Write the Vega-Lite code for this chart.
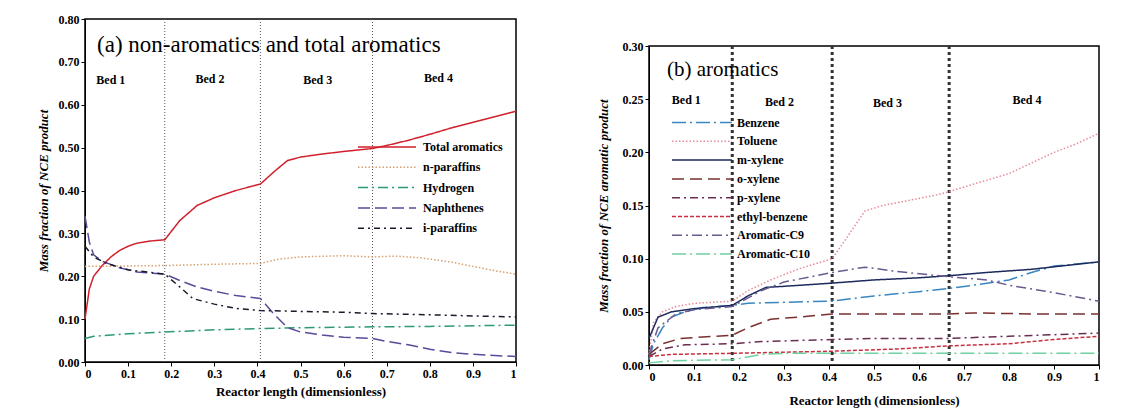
{
  "$schema": "https://vega.github.io/schema/vega-lite/v6.json",
  "background": "white",
  "padding": {"left": 36, "top": 12, "right": 0, "bottom": 0},
  "config": {
    "font": "Liberation Serif",
    "view": {"stroke": "black", "strokeWidth": 1.5},
    "axis": {
      "grid": false,
      "domainColor": "black",
      "tickColor": "black",
      "labelColor": "black",
      "titleColor": "black",
      "labelFont": "Liberation Serif",
      "titleFont": "Liberation Serif",
      "labelFontSize": 12,
      "labelFontWeight": "bold",
      "titleFontSize": 13,
      "titleFontWeight": "bold",
      "tickSize": 4
    },
    "legend": {
      "labelFont": "Liberation Serif",
      "labelFontSize": 12,
      "labelFontWeight": "bold",
      "labelColor": "black"
    },
    "concat": {"spacing": 76}
  },
  "datasets": {
    "a": [
      {"x": 0, "y": 0.10, "s": "Total aromatics"},
      {"x": 0.01, "y": 0.17, "s": "Total aromatics"},
      {"x": 0.02, "y": 0.20, "s": "Total aromatics"},
      {"x": 0.04, "y": 0.225, "s": "Total aromatics"},
      {"x": 0.06, "y": 0.245, "s": "Total aromatics"},
      {"x": 0.08, "y": 0.26, "s": "Total aromatics"},
      {"x": 0.10, "y": 0.27, "s": "Total aromatics"},
      {"x": 0.12, "y": 0.277, "s": "Total aromatics"},
      {"x": 0.15, "y": 0.282, "s": "Total aromatics"},
      {"x": 0.185, "y": 0.285, "s": "Total aromatics"},
      {"x": 0.22, "y": 0.33, "s": "Total aromatics"},
      {"x": 0.26, "y": 0.365, "s": "Total aromatics"},
      {"x": 0.30, "y": 0.383, "s": "Total aromatics"},
      {"x": 0.35, "y": 0.40, "s": "Total aromatics"},
      {"x": 0.407, "y": 0.415, "s": "Total aromatics"},
      {"x": 0.44, "y": 0.445, "s": "Total aromatics"},
      {"x": 0.47, "y": 0.47, "s": "Total aromatics"},
      {"x": 0.50, "y": 0.478, "s": "Total aromatics"},
      {"x": 0.55, "y": 0.485, "s": "Total aromatics"},
      {"x": 0.60, "y": 0.491, "s": "Total aromatics"},
      {"x": 0.667, "y": 0.498, "s": "Total aromatics"},
      {"x": 0.70, "y": 0.505, "s": "Total aromatics"},
      {"x": 0.75, "y": 0.517, "s": "Total aromatics"},
      {"x": 0.80, "y": 0.531, "s": "Total aromatics"},
      {"x": 0.85, "y": 0.546, "s": "Total aromatics"},
      {"x": 0.90, "y": 0.559, "s": "Total aromatics"},
      {"x": 0.95, "y": 0.572, "s": "Total aromatics"},
      {"x": 1.0, "y": 0.585, "s": "Total aromatics"},

      {"x": 0, "y": 0.223, "s": "n-paraffins"},
      {"x": 0.1, "y": 0.224, "s": "n-paraffins"},
      {"x": 0.185, "y": 0.225, "s": "n-paraffins"},
      {"x": 0.3, "y": 0.228, "s": "n-paraffins"},
      {"x": 0.407, "y": 0.23, "s": "n-paraffins"},
      {"x": 0.45, "y": 0.24, "s": "n-paraffins"},
      {"x": 0.5, "y": 0.245, "s": "n-paraffins"},
      {"x": 0.6, "y": 0.248, "s": "n-paraffins"},
      {"x": 0.667, "y": 0.245, "s": "n-paraffins"},
      {"x": 0.72, "y": 0.247, "s": "n-paraffins"},
      {"x": 0.78, "y": 0.243, "s": "n-paraffins"},
      {"x": 0.85, "y": 0.233, "s": "n-paraffins"},
      {"x": 0.9, "y": 0.223, "s": "n-paraffins"},
      {"x": 0.95, "y": 0.213, "s": "n-paraffins"},
      {"x": 1.0, "y": 0.205, "s": "n-paraffins"},

      {"x": 0, "y": 0.055, "s": "Hydrogen"},
      {"x": 0.02, "y": 0.06, "s": "Hydrogen"},
      {"x": 0.1, "y": 0.066, "s": "Hydrogen"},
      {"x": 0.185, "y": 0.07, "s": "Hydrogen"},
      {"x": 0.3, "y": 0.075, "s": "Hydrogen"},
      {"x": 0.407, "y": 0.078, "s": "Hydrogen"},
      {"x": 0.5, "y": 0.08, "s": "Hydrogen"},
      {"x": 0.667, "y": 0.082, "s": "Hydrogen"},
      {"x": 0.8, "y": 0.083, "s": "Hydrogen"},
      {"x": 1.0, "y": 0.086, "s": "Hydrogen"},

      {"x": 0, "y": 0.34, "s": "Naphthenes"},
      {"x": 0.01, "y": 0.28, "s": "Naphthenes"},
      {"x": 0.02, "y": 0.25, "s": "Naphthenes"},
      {"x": 0.04, "y": 0.235, "s": "Naphthenes"},
      {"x": 0.08, "y": 0.22, "s": "Naphthenes"},
      {"x": 0.12, "y": 0.21, "s": "Naphthenes"},
      {"x": 0.185, "y": 0.205, "s": "Naphthenes"},
      {"x": 0.22, "y": 0.19, "s": "Naphthenes"},
      {"x": 0.26, "y": 0.175, "s": "Naphthenes"},
      {"x": 0.30, "y": 0.165, "s": "Naphthenes"},
      {"x": 0.35, "y": 0.155, "s": "Naphthenes"},
      {"x": 0.407, "y": 0.148, "s": "Naphthenes"},
      {"x": 0.44, "y": 0.11, "s": "Naphthenes"},
      {"x": 0.47, "y": 0.08, "s": "Naphthenes"},
      {"x": 0.50, "y": 0.07, "s": "Naphthenes"},
      {"x": 0.55, "y": 0.063, "s": "Naphthenes"},
      {"x": 0.60, "y": 0.058, "s": "Naphthenes"},
      {"x": 0.667, "y": 0.055, "s": "Naphthenes"},
      {"x": 0.70, "y": 0.048, "s": "Naphthenes"},
      {"x": 0.75, "y": 0.04, "s": "Naphthenes"},
      {"x": 0.80, "y": 0.03, "s": "Naphthenes"},
      {"x": 0.85, "y": 0.022, "s": "Naphthenes"},
      {"x": 0.90, "y": 0.018, "s": "Naphthenes"},
      {"x": 0.95, "y": 0.015, "s": "Naphthenes"},
      {"x": 1.0, "y": 0.013, "s": "Naphthenes"},

      {"x": 0, "y": 0.27, "s": "i-paraffins"},
      {"x": 0.02, "y": 0.245, "s": "i-paraffins"},
      {"x": 0.05, "y": 0.23, "s": "i-paraffins"},
      {"x": 0.10, "y": 0.215, "s": "i-paraffins"},
      {"x": 0.185, "y": 0.205, "s": "i-paraffins"},
      {"x": 0.22, "y": 0.175, "s": "i-paraffins"},
      {"x": 0.25, "y": 0.148, "s": "i-paraffins"},
      {"x": 0.30, "y": 0.135, "s": "i-paraffins"},
      {"x": 0.35, "y": 0.125, "s": "i-paraffins"},
      {"x": 0.407, "y": 0.12, "s": "i-paraffins"},
      {"x": 0.50, "y": 0.118, "s": "i-paraffins"},
      {"x": 0.60, "y": 0.116, "s": "i-paraffins"},
      {"x": 0.667, "y": 0.113, "s": "i-paraffins"},
      {"x": 0.80, "y": 0.11, "s": "i-paraffins"},
      {"x": 1.0, "y": 0.105, "s": "i-paraffins"}
    ],
    "b": [
      {"x": 0, "y": 0.005, "s": "Benzene"},
      {"x": 0.01, "y": 0.02, "s": "Benzene"},
      {"x": 0.03, "y": 0.035, "s": "Benzene"},
      {"x": 0.05, "y": 0.045, "s": "Benzene"},
      {"x": 0.08, "y": 0.05, "s": "Benzene"},
      {"x": 0.12, "y": 0.054, "s": "Benzene"},
      {"x": 0.185, "y": 0.056, "s": "Benzene"},
      {"x": 0.22, "y": 0.058, "s": "Benzene"},
      {"x": 0.30, "y": 0.059, "s": "Benzene"},
      {"x": 0.407, "y": 0.06, "s": "Benzene"},
      {"x": 0.50, "y": 0.065, "s": "Benzene"},
      {"x": 0.60, "y": 0.069, "s": "Benzene"},
      {"x": 0.667, "y": 0.072, "s": "Benzene"},
      {"x": 0.72, "y": 0.075, "s": "Benzene"},
      {"x": 0.80, "y": 0.08, "s": "Benzene"},
      {"x": 0.85, "y": 0.087, "s": "Benzene"},
      {"x": 0.90, "y": 0.093, "s": "Benzene"},
      {"x": 1.0, "y": 0.097, "s": "Benzene"},

      {"x": 0, "y": 0.01, "s": "Toluene"},
      {"x": 0.01, "y": 0.04, "s": "Toluene"},
      {"x": 0.03, "y": 0.05, "s": "Toluene"},
      {"x": 0.06, "y": 0.055, "s": "Toluene"},
      {"x": 0.10, "y": 0.058, "s": "Toluene"},
      {"x": 0.185, "y": 0.06, "s": "Toluene"},
      {"x": 0.22, "y": 0.07, "s": "Toluene"},
      {"x": 0.27, "y": 0.08, "s": "Toluene"},
      {"x": 0.33, "y": 0.09, "s": "Toluene"},
      {"x": 0.407, "y": 0.1, "s": "Toluene"},
      {"x": 0.44, "y": 0.12, "s": "Toluene"},
      {"x": 0.48, "y": 0.145, "s": "Toluene"},
      {"x": 0.52, "y": 0.15, "s": "Toluene"},
      {"x": 0.58, "y": 0.155, "s": "Toluene"},
      {"x": 0.64, "y": 0.16, "s": "Toluene"},
      {"x": 0.667, "y": 0.163, "s": "Toluene"},
      {"x": 0.72, "y": 0.17, "s": "Toluene"},
      {"x": 0.80, "y": 0.18, "s": "Toluene"},
      {"x": 0.85, "y": 0.19, "s": "Toluene"},
      {"x": 0.90, "y": 0.2, "s": "Toluene"},
      {"x": 0.95, "y": 0.208, "s": "Toluene"},
      {"x": 1.0, "y": 0.218, "s": "Toluene"},

      {"x": 0, "y": 0.025, "s": "m-xylene"},
      {"x": 0.02, "y": 0.045, "s": "m-xylene"},
      {"x": 0.05, "y": 0.05, "s": "m-xylene"},
      {"x": 0.10, "y": 0.053, "s": "m-xylene"},
      {"x": 0.185, "y": 0.056, "s": "m-xylene"},
      {"x": 0.22, "y": 0.065, "s": "m-xylene"},
      {"x": 0.26, "y": 0.073, "s": "m-xylene"},
      {"x": 0.30, "y": 0.074, "s": "m-xylene"},
      {"x": 0.407, "y": 0.077, "s": "m-xylene"},
      {"x": 0.50, "y": 0.08, "s": "m-xylene"},
      {"x": 0.60, "y": 0.082, "s": "m-xylene"},
      {"x": 0.667, "y": 0.084, "s": "m-xylene"},
      {"x": 0.75, "y": 0.087, "s": "m-xylene"},
      {"x": 0.85, "y": 0.09, "s": "m-xylene"},
      {"x": 1.0, "y": 0.097, "s": "m-xylene"},

      {"x": 0, "y": 0.01, "s": "o-xylene"},
      {"x": 0.03, "y": 0.02, "s": "o-xylene"},
      {"x": 0.07, "y": 0.025, "s": "o-xylene"},
      {"x": 0.185, "y": 0.028, "s": "o-xylene"},
      {"x": 0.22, "y": 0.035, "s": "o-xylene"},
      {"x": 0.27, "y": 0.043, "s": "o-xylene"},
      {"x": 0.33, "y": 0.045, "s": "o-xylene"},
      {"x": 0.407, "y": 0.048, "s": "o-xylene"},
      {"x": 0.50, "y": 0.048, "s": "o-xylene"},
      {"x": 0.667, "y": 0.048, "s": "o-xylene"},
      {"x": 0.72, "y": 0.049, "s": "o-xylene"},
      {"x": 0.85, "y": 0.048, "s": "o-xylene"},
      {"x": 1.0, "y": 0.048, "s": "o-xylene"},

      {"x": 0, "y": 0.008, "s": "p-xylene"},
      {"x": 0.03, "y": 0.015, "s": "p-xylene"},
      {"x": 0.08, "y": 0.019, "s": "p-xylene"},
      {"x": 0.185, "y": 0.02, "s": "p-xylene"},
      {"x": 0.25, "y": 0.022, "s": "p-xylene"},
      {"x": 0.407, "y": 0.024, "s": "p-xylene"},
      {"x": 0.50, "y": 0.025, "s": "p-xylene"},
      {"x": 0.667, "y": 0.025, "s": "p-xylene"},
      {"x": 0.80, "y": 0.027, "s": "p-xylene"},
      {"x": 1.0, "y": 0.03, "s": "p-xylene"},

      {"x": 0, "y": 0.008, "s": "ethyl-benzene"},
      {"x": 0.05, "y": 0.01, "s": "ethyl-benzene"},
      {"x": 0.185, "y": 0.011, "s": "ethyl-benzene"},
      {"x": 0.30, "y": 0.012, "s": "ethyl-benzene"},
      {"x": 0.407, "y": 0.013, "s": "ethyl-benzene"},
      {"x": 0.55, "y": 0.015, "s": "ethyl-benzene"},
      {"x": 0.667, "y": 0.018, "s": "ethyl-benzene"},
      {"x": 0.80, "y": 0.02, "s": "ethyl-benzene"},
      {"x": 0.90, "y": 0.024, "s": "ethyl-benzene"},
      {"x": 1.0, "y": 0.027, "s": "ethyl-benzene"},

      {"x": 0, "y": 0.01, "s": "Aromatic-C9"},
      {"x": 0.02, "y": 0.035, "s": "Aromatic-C9"},
      {"x": 0.06, "y": 0.048, "s": "Aromatic-C9"},
      {"x": 0.10, "y": 0.052, "s": "Aromatic-C9"},
      {"x": 0.185, "y": 0.055, "s": "Aromatic-C9"},
      {"x": 0.25, "y": 0.07, "s": "Aromatic-C9"},
      {"x": 0.30, "y": 0.078, "s": "Aromatic-C9"},
      {"x": 0.407, "y": 0.087, "s": "Aromatic-C9"},
      {"x": 0.48, "y": 0.092, "s": "Aromatic-C9"},
      {"x": 0.55, "y": 0.088, "s": "Aromatic-C9"},
      {"x": 0.62, "y": 0.085, "s": "Aromatic-C9"},
      {"x": 0.667, "y": 0.083, "s": "Aromatic-C9"},
      {"x": 0.75, "y": 0.08, "s": "Aromatic-C9"},
      {"x": 0.80, "y": 0.075, "s": "Aromatic-C9"},
      {"x": 0.90, "y": 0.068, "s": "Aromatic-C9"},
      {"x": 1.0, "y": 0.06, "s": "Aromatic-C9"},

      {"x": 0, "y": 0.002, "s": "Aromatic-C10"},
      {"x": 0.05, "y": 0.004, "s": "Aromatic-C10"},
      {"x": 0.185, "y": 0.005, "s": "Aromatic-C10"},
      {"x": 0.25, "y": 0.01, "s": "Aromatic-C10"},
      {"x": 0.30, "y": 0.011, "s": "Aromatic-C10"},
      {"x": 0.407, "y": 0.011, "s": "Aromatic-C10"},
      {"x": 0.667, "y": 0.011, "s": "Aromatic-C10"},
      {"x": 1.0, "y": 0.011, "s": "Aromatic-C10"}
    ],
    "beds": [{"x": 0.185}, {"x": 0.407}, {"x": 0.667}],
    "bedLabelsA": [
      {"x": 0.06, "y": 0.657, "t": "Bed 1"},
      {"x": 0.29, "y": 0.659, "t": "Bed 2"},
      {"x": 0.54, "y": 0.657, "t": "Bed 3"},
      {"x": 0.82, "y": 0.662, "t": "Bed 4"}
    ],
    "bedLabelsB": [
      {"x": 0.083, "y": 0.249, "t": "Bed 1"},
      {"x": 0.29, "y": 0.247, "t": "Bed 2"},
      {"x": 0.53, "y": 0.246, "t": "Bed 3"},
      {"x": 0.84, "y": 0.249, "t": "Bed 4"}
    ],
    "titleA": [{"x": 0.028, "y": 0.739, "t": "(a) non-aromatics and total aromatics"}],
    "titleB": [{"x": 0.04, "y": 0.277, "t": "(b) aromatics"}]
  },
  "hconcat": [
    {
      "width": 431,
      "height": 343,
      "layer": [
        {
          "data": {"name": "beds"},
          "mark": {"type": "rule", "color": "#555555", "strokeWidth": 1, "strokeDash": [1, 2]},
          "encoding": {
            "x": {"field": "x", "type": "quantitative", "scale": {"domain": [0, 1]}}
          }
        },
        {
          "data": {"name": "bedLabelsA"},
          "mark": {"type": "text", "fontSize": 12, "fontWeight": "bold", "font": "Liberation Serif", "color": "black"},
          "encoding": {
            "x": {"field": "x", "type": "quantitative"},
            "y": {"field": "y", "type": "quantitative"},
            "text": {"field": "t"}
          }
        },
        {
          "data": {"name": "titleA"},
          "mark": {"type": "text", "fontSize": 23, "font": "Liberation Serif", "align": "left", "color": "black"},
          "encoding": {
            "x": {"field": "x", "type": "quantitative"},
            "y": {"field": "y", "type": "quantitative"},
            "text": {"field": "t"}
          }
        },
        {
          "data": {"name": "a"},
          "mark": {"type": "line", "strokeWidth": 1.5},
          "encoding": {
            "x": {
              "field": "x", "type": "quantitative",
              "scale": {"domain": [0, 1], "nice": false},
              "axis": {"values": [0, 0.1, 0.2, 0.3, 0.4, 0.5, 0.6, 0.7, 0.8, 0.9, 1], "format": ".1~f", "title": "Reactor length (dimensionless)", "titlePadding": 6}
            },
            "y": {
              "field": "y", "type": "quantitative",
              "scale": {"domain": [0, 0.8], "nice": false},
              "axis": {
                "values": [0, 0.05, 0.1, 0.15, 0.2, 0.25, 0.3, 0.35, 0.4, 0.45, 0.5, 0.55, 0.6, 0.65, 0.7, 0.75, 0.8],
                "labelExpr": "round(datum.value * 100) % 10 == 0 ? format(datum.value, '.2f') : ''",
                "title": "Mass fraction of NCE product",
                "titleFontStyle": "italic",
                "titlePadding": 8
              }
            },
            "color": {
              "field": "s", "type": "nominal",
              "scale": {
                "domain": ["Total aromatics", "n-paraffins", "Hydrogen", "Naphthenes", "i-paraffins"],
                "range": ["#d0202c", "#d9a070", "#2e9a70", "#5a4a9a", "#1a1a2a"]
              },
              "legend": {
                "title": null, "orient": "none", "legendX": 272, "legendY": 121,
                "symbolType": "stroke", "symbolSize": 3364, "symbolStrokeWidth": 1.5,
                "clipHeight": 14, "rowPadding": 6.3, "labelOffset": 6
              }
            },
            "strokeDash": {
              "field": "s", "type": "nominal",
              "scale": {
                "domain": ["Total aromatics", "n-paraffins", "Hydrogen", "Naphthenes", "i-paraffins"],
                "range": [[1, 0], [1.5, 2], [10, 4, 2, 4], [12, 5], [6, 4, 2, 4]]
              },
              "legend": {
                "title": null, "orient": "none", "legendX": 272, "legendY": 121,
                "symbolType": "stroke", "symbolSize": 3364, "symbolStrokeWidth": 1.5,
                "clipHeight": 14, "rowPadding": 6.3, "labelOffset": 6
              }
            }
          }
        }
      ]
    },
    {
      "spacing": 0,
      "vconcat": [
        {
          "width": 450,
          "height": 20,
          "view": {"stroke": null},
          "data": {"values": [{}]},
          "mark": {"type": "text"},
          "encoding": {"text": {"value": ""}}
        },
        {
          "width": 450,
          "height": 319,
          "layer": [
            {
              "data": {"name": "beds"},
              "mark": {"type": "rule", "color": "#333333", "strokeWidth": 3, "strokeDash": [3, 3]},
              "encoding": {
                "x": {"field": "x", "type": "quantitative", "scale": {"domain": [0, 1]}}
              }
            },
            {
              "data": {"name": "bedLabelsB"},
              "mark": {"type": "text", "fontSize": 12, "fontWeight": "bold", "font": "Liberation Serif", "color": "black"},
              "encoding": {
                "x": {"field": "x", "type": "quantitative"},
                "y": {"field": "y", "type": "quantitative"},
                "text": {"field": "t"}
              }
            },
            {
              "data": {"name": "titleB"},
              "mark": {"type": "text", "fontSize": 21, "font": "Liberation Serif", "align": "left", "color": "black"},
              "encoding": {
                "x": {"field": "x", "type": "quantitative"},
                "y": {"field": "y", "type": "quantitative"},
                "text": {"field": "t"}
              }
            },
            {
              "data": {"name": "b"},
              "mark": {"type": "line", "strokeWidth": 1.5},
              "encoding": {
                "x": {
                  "field": "x", "type": "quantitative",
                  "scale": {"domain": [0, 1], "nice": false},
                  "axis": {"values": [0, 0.1, 0.2, 0.3, 0.4, 0.5, 0.6, 0.7, 0.8, 0.9, 1], "format": ".1~f", "title": "Reactor length (dimensionless)", "titlePadding": 12}
                },
                "y": {
                  "field": "y", "type": "quantitative",
                  "scale": {"domain": [0, 0.3], "nice": false},
                  "axis": {
                    "values": [0, 0.025, 0.05, 0.075, 0.1, 0.125, 0.15, 0.175, 0.2, 0.225, 0.25, 0.275, 0.3],
                    "labelExpr": "round(datum.value * 1000) % 50 == 0 ? format(datum.value, '.2f') : ''",
                    "title": "Mass fraction of NCE aromatic product",
                    "titleFontStyle": "italic",
                    "titlePadding": 12
                  }
                },
                "color": {
                  "field": "s", "type": "nominal",
                  "scale": {
                    "domain": ["Benzene", "Toluene", "m-xylene", "o-xylene", "p-xylene", "ethyl-benzene", "Aromatic-C9", "Aromatic-C10"],
                    "range": ["#3a86c0", "#e88a98", "#1c2a5e", "#7a3030", "#6a2e50", "#c83040", "#6a5a8e", "#70d0a0"]
                  },
                  "legend": {
                    "title": null, "orient": "none", "legendX": 22, "legendY": 97,
                    "symbolType": "stroke", "symbolSize": 3600, "symbolStrokeWidth": 1.5,
                    "clipHeight": 13, "rowPadding": 5.8, "labelOffset": 4
                  }
                },
                "strokeDash": {
                  "field": "s", "type": "nominal",
                  "scale": {
                    "domain": ["Benzene", "Toluene", "m-xylene", "o-xylene", "p-xylene", "ethyl-benzene", "Aromatic-C9", "Aromatic-C10"],
                    "range": [[14, 4, 2, 4], [1.5, 2], [1, 0], [12, 6], [8, 4, 2, 4], [4, 2], [10, 4, 2, 4], [14, 4, 2, 4]]
                  },
                  "legend": {
                    "title": null, "orient": "none", "legendX": 22, "legendY": 97,
                    "symbolType": "stroke", "symbolSize": 3600, "symbolStrokeWidth": 1.5,
                    "clipHeight": 13, "rowPadding": 5.8, "labelOffset": 4
                  }
                }
              }
            }
          ]
        }
      ]
    }
  ],
  "resolve": {
    "scale": {"color": "independent", "strokeDash": "independent", "x": "independent", "y": "independent"},
    "legend": {"color": "independent", "strokeDash": "independent"}
  }
}
